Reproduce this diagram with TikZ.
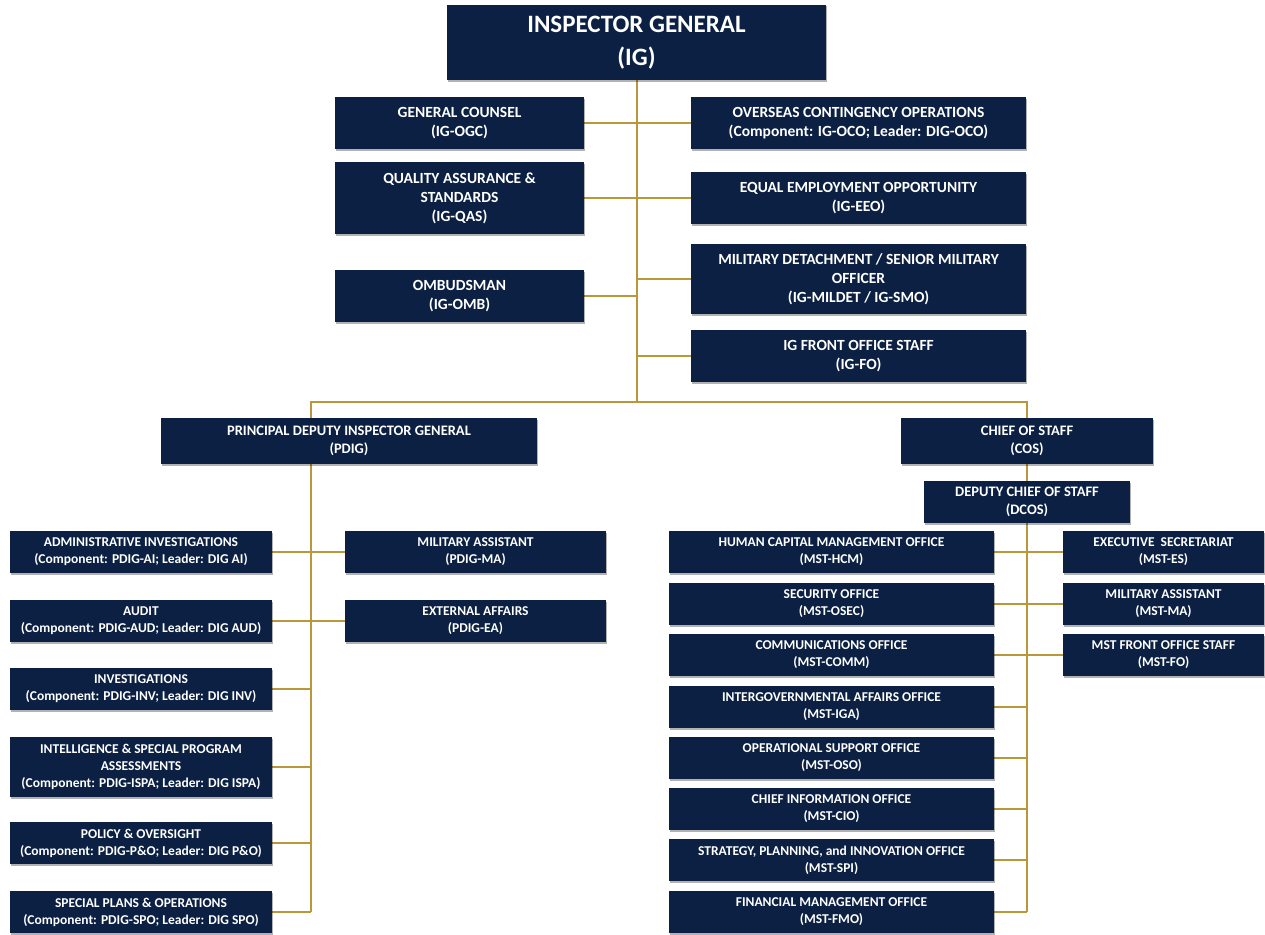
\documentclass[tikz,border=0pt]{standalone}
\usepackage{fontspec}
\setmainfont{Carlito}
\usetikzlibrary{shadows}
\definecolor{navy}{HTML}{0B2042}
\definecolor{gold}{HTML}{B8983A}
\pgfdeclarelayer{bg}
\pgfsetlayers{bg,main}
\begin{document}
\begin{tikzpicture}[x=1pt,y=-1pt,
  box/.style={draw=none, fill=navy, text=white, align=center, inner sep=1pt,
    drop shadow={shadow xshift=1.2pt,shadow yshift=-1.5pt,opacity=0.3,fill=black}},
  fs/.style={font=\bfseries\fontsize{13.5}{17}\selectfont},
  fp/.style={font=\bfseries\fontsize{14.5}{18.5}\selectfont},
  fm/.style={font=\bfseries\fontsize{15.5}{19}\selectfont},
  fl/.style={font=\bfseries\fontsize{25}{33}\selectfont},
  link/.style={draw=gold, line width=2pt}]
\useasboundingbox (0,0) rectangle (1265,934);

% top level
\node[box,fl,minimum width=379pt,minimum height=75pt] (ig) at (636.5,42.5) {INSPECTOR GENERAL\\(IG)};

\node[box,fm,minimum width=249pt,minimum height=52pt] (gc) at (459.5,123) {GENERAL COUNSEL\\(IG-OGC)};
\node[box,fm,minimum width=249pt,minimum height=72pt] (qas) at (459.5,198) {QUALITY ASSURANCE \&\\STANDARDS\\(IG-QAS)};
\node[box,fm,minimum width=249pt,minimum height=52pt] (omb) at (459.5,296) {OMBUDSMAN\\(IG-OMB)};

\node[box,fm,minimum width=335pt,minimum height=52pt] (oco) at (858.5,123) {OVERSEAS CONTINGENCY OPERATIONS\\(Component: IG-OCO; Leader: DIG-OCO)};
\node[box,fm,minimum width=335pt,minimum height=52pt] (eeo) at (858.5,198) {EQUAL EMPLOYMENT OPPORTUNITY\\(IG-EEO)};
\node[box,fm,minimum width=335pt,minimum height=70pt] (mildet) at (858.5,279) {MILITARY DETACHMENT / SENIOR MILITARY\\OFFICER\\(IG-MILDET / IG-SMO)};
\node[box,fm,minimum width=335pt,minimum height=52pt] (igfo) at (858.5,356) {IG FRONT OFFICE STAFF\\(IG-FO)};

% second level
\node[box,fp,minimum width=376pt,minimum height=46pt] (pdig) at (349,441) {PRINCIPAL DEPUTY INSPECTOR GENERAL\\(PDIG)};
\node[box,fp,minimum width=252pt,minimum height=46pt] (cos) at (1027,441) {CHIEF OF STAFF\\(COS)};
\node[box,fp,minimum width=206pt,minimum height=42pt] (dcos) at (1027,502) {DEPUTY CHIEF OF STAFF\\(DCOS)};

% PDIG left column
\node[box,fs,minimum width=262pt,minimum height=42pt] (ai) at (141,552) {ADMINISTRATIVE INVESTIGATIONS\\(Component: PDIG-AI; Leader: DIG AI)};
\node[box,fs,minimum width=262pt,minimum height=42pt] (aud) at (141,621) {AUDIT\\(Component: PDIG-AUD; Leader: DIG AUD)};
\node[box,fs,minimum width=262pt,minimum height=42pt] (inv) at (141,689) {INVESTIGATIONS\\(Component: PDIG-INV; Leader: DIG INV)};
\node[box,fs,minimum width=262pt,minimum height=60pt] (ispa) at (141,767) {INTELLIGENCE \& SPECIAL PROGRAM\\ASSESSMENTS\\(Component: PDIG-ISPA; Leader: DIG ISPA)};
\node[box,fs,minimum width=262pt,minimum height=42pt] (po) at (141,843) {POLICY \& OVERSIGHT\\(Component: PDIG-P\&O; Leader: DIG P\&O)};
\node[box,fs,minimum width=262pt,minimum height=42pt] (spo) at (141,912) {SPECIAL PLANS \& OPERATIONS\\(Component: PDIG-SPO; Leader: DIG SPO)};

% PDIG right column
\node[box,fs,minimum width=261pt,minimum height=42pt] (pma) at (475.5,552) {MILITARY ASSISTANT\\(PDIG-MA)};
\node[box,fs,minimum width=261pt,minimum height=42pt] (ea) at (475.5,621) {EXTERNAL AFFAIRS\\(PDIG-EA)};

% COS left column
\node[box,fs,minimum width=325pt,minimum height=42pt] (hcm) at (831.5,552) {HUMAN CAPITAL MANAGEMENT OFFICE\\(MST-HCM)};
\node[box,fs,minimum width=325pt,minimum height=42pt] (osec) at (831.5,604) {SECURITY OFFICE\\(MST-OSEC)};
\node[box,fs,minimum width=325pt,minimum height=42pt] (comm) at (831.5,655) {COMMUNICATIONS OFFICE\\(MST-COMM)};
\node[box,fs,minimum width=325pt,minimum height=42pt] (iga) at (831.5,707) {INTERGOVERNMENTAL AFFAIRS OFFICE\\(MST-IGA)};
\node[box,fs,minimum width=325pt,minimum height=42pt] (oso) at (831.5,758) {OPERATIONAL SUPPORT OFFICE\\(MST-OSO)};
\node[box,fs,minimum width=325pt,minimum height=42pt] (cio) at (831.5,809) {CHIEF INFORMATION OFFICE\\(MST-CIO)};
\node[box,fs,minimum width=325pt,minimum height=42pt] (spi) at (831.5,860) {STRATEGY, PLANNING, and INNOVATION OFFICE\\(MST-SPI)};
\node[box,fs,minimum width=325pt,minimum height=42pt] (fmo) at (831.5,912) {FINANCIAL MANAGEMENT OFFICE\\(MST-FMO)};

% COS right column
\node[box,fs,minimum width=201pt,minimum height=42pt] (es) at (1163.5,552) {EXECUTIVE \ SECRETARIAT\\(MST-ES)};
\node[box,fs,minimum width=201pt,minimum height=42pt] (mma) at (1163.5,604) {MILITARY ASSISTANT\\(MST-MA)};
\node[box,fs,minimum width=201pt,minimum height=42pt] (mfo) at (1163.5,655) {MST FRONT OFFICE STAFF\\(MST-FO)};

\begin{pgfonlayer}{bg}
\coordinate (lt) at (311,402);
\coordinate (rt) at (1027,402);
\coordinate (sp) at (637,402);
\draw[link] (sp |- ig.south) -- (sp);
\draw[link] (lt |- spo.east) -- (lt) -- (rt) -- (rt |- fmo.east);
\draw[link] (gc.east) -- (oco.west);
\draw[link] (qas.east) -- (eeo.west);
\draw[link] (mildet.west) -- (mildet.west -| sp);
\draw[link] (omb.east) -- (omb.east -| sp);
\draw[link] (igfo.west) -- (igfo.west -| sp);
\draw[link] (ai.east) -- (pma.west);
\draw[link] (aud.east) -- (ea.west);
\draw[link] (inv.east) -- (inv.east -| lt);
\draw[link] (ispa.east) -- (ispa.east -| lt);
\draw[link] (po.east) -- (po.east -| lt);
\draw[link] (spo.east) -- (spo.east -| lt);
\draw[link] (hcm.east) -- (es.west);
\draw[link] (osec.east) -- (mma.west);
\draw[link] (comm.east) -- (mfo.west);
\draw[link] (iga.east) -- (iga.east -| rt);
\draw[link] (oso.east) -- (oso.east -| rt);
\draw[link] (cio.east) -- (cio.east -| rt);
\draw[link] (spi.east) -- (spi.east -| rt);
\draw[link] (fmo.east) -- (fmo.east -| rt);
\end{pgfonlayer}
\end{tikzpicture}
\end{document}
